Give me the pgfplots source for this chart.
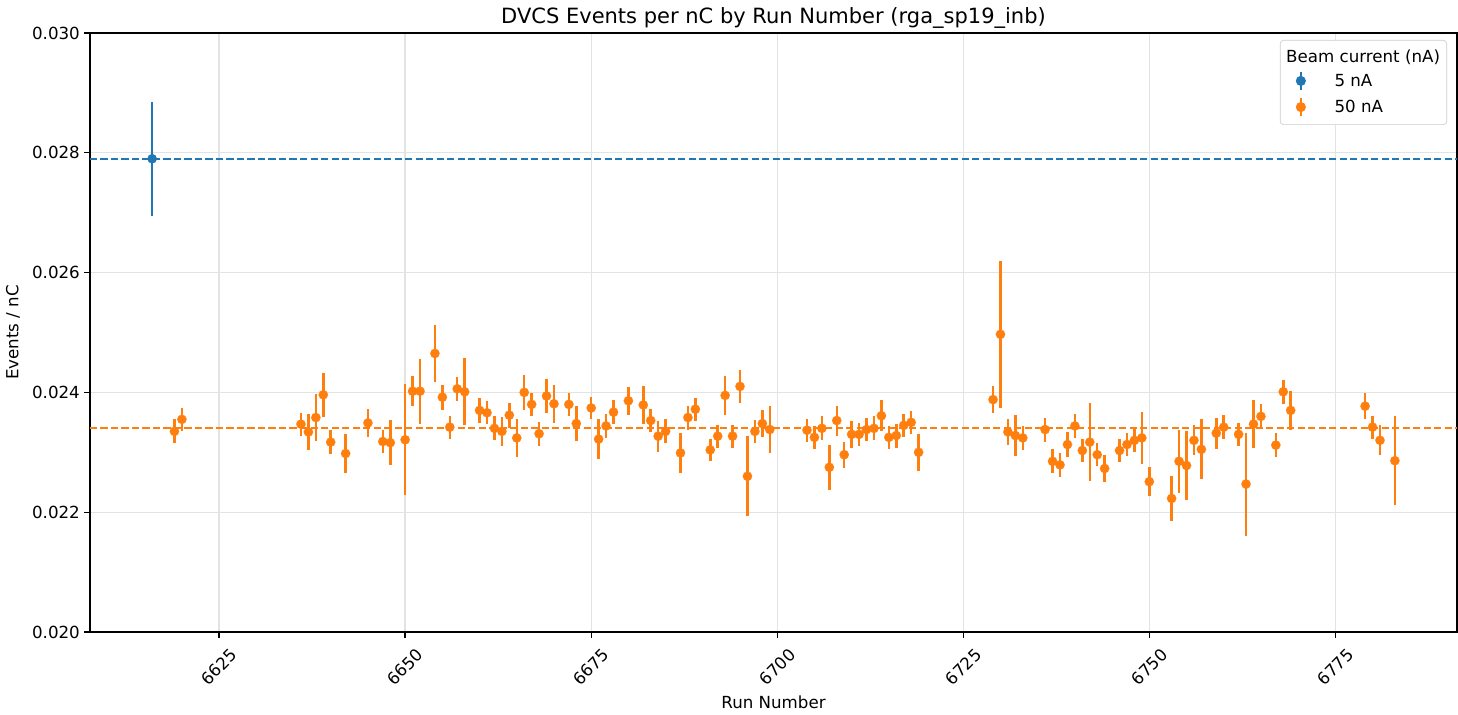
\documentclass[border=0pt]{standalone}
\usepackage{pgfplots}
\pgfplotsset{compat=1.18}
\usepackage{pgfplotstable}
\usepackage{fontspec}
\setmainfont{DejaVu Sans}
\definecolor{mplblue}{HTML}{1F77B4}
\definecolor{mplorange}{HTML}{FF7F0E}
\definecolor{gridgray}{HTML}{E3E3E3}
\definecolor{legframe}{HTML}{CCCCCC}

\pgfplotstableread{
x y e
6616 0.02790 0.00095
}\bluedata

\pgfplotstableread{
x y e
6619 0.02335 0.00020
6620 0.02355 0.00019
6636 0.02347 0.00019
6637 0.02334 0.00030
6638 0.02358 0.00039
6639 0.02396 0.00037
6640 0.02317 0.00020
6642 0.02298 0.00032
6645 0.02349 0.00024
6647 0.02318 0.00020
6648 0.02316 0.00038
6650 0.02321 0.00093
6651 0.02402 0.00025
6652 0.02402 0.00054
6654 0.02465 0.00048
6655 0.02392 0.00021
6656 0.02342 0.00019
6657 0.02406 0.00020
6658 0.02401 0.00056
6660 0.02370 0.00021
6661 0.02366 0.00019
6662 0.02340 0.00020
6663 0.02335 0.00024
6664 0.02362 0.00021
6665 0.02324 0.00032
6666 0.02400 0.00029
6667 0.02380 0.00019
6668 0.02331 0.00020
6669 0.02394 0.00028
6670 0.02381 0.00032
6672 0.02380 0.00019
6673 0.02348 0.00029
6675 0.02374 0.00019
6676 0.02322 0.00033
6677 0.02344 0.00020
6678 0.02367 0.00020
6680 0.02386 0.00023
6682 0.02379 0.00032
6683 0.02353 0.00019
6684 0.02327 0.00026
6685 0.02335 0.00020
6687 0.02299 0.00033
6688 0.02358 0.00020
6689 0.02372 0.00019
6691 0.02304 0.00019
6692 0.02327 0.00019
6693 0.02395 0.00033
6694 0.02327 0.00019
6695 0.02410 0.00027
6696 0.02260 0.00067
6697 0.02335 0.00019
6698 0.02348 0.00022
6699 0.02338 0.00040
6704 0.02337 0.00019
6705 0.02325 0.00019
6706 0.02340 0.00020
6707 0.02275 0.00038
6708 0.02353 0.00025
6709 0.02296 0.00022
6710 0.02330 0.00022
6711 0.02330 0.00019
6712 0.02338 0.00019
6713 0.02340 0.00020
6714 0.02361 0.00026
6715 0.02325 0.00019
6716 0.02328 0.00020
6717 0.02345 0.00019
6718 0.02350 0.00019
6719 0.02300 0.00031
6729 0.02388 0.00023
6730 0.02497 0.00123
6731 0.02334 0.00021
6732 0.02328 0.00034
6733 0.02324 0.00020
6736 0.02338 0.00020
6737 0.02285 0.00020
6738 0.02279 0.00020
6739 0.02313 0.00021
6740 0.02344 0.00020
6741 0.02303 0.00019
6742 0.02317 0.00065
6743 0.02296 0.00019
6744 0.02273 0.00022
6746 0.02303 0.00019
6747 0.02313 0.00019
6748 0.02320 0.00020
6749 0.02324 0.00043
6750 0.02251 0.00024
6753 0.02223 0.00037
6754 0.02285 0.00053
6755 0.02278 0.00057
6756 0.02320 0.00025
6757 0.02305 0.00050
6759 0.02332 0.00026
6760 0.02342 0.00020
6762 0.02330 0.00019
6763 0.02247 0.00086
6764 0.02347 0.00040
6765 0.02360 0.00020
6767 0.02312 0.00020
6768 0.02401 0.00020
6769 0.02370 0.00033
6779 0.02377 0.00022
6780 0.02342 0.00019
6781 0.02320 0.00025
6783 0.02286 0.00074
}\orangedata

\begin{document}
\begin{tikzpicture}
\begin{axis}[
  name=ax,
  scale only axis, width=820.2pt, height=359.4pt,
  xmin=6607.65, xmax=6791.35, ymin=0.020, ymax=0.030,
  xtick={6625,6650,6675,6700,6725,6750,6775},
  ytick={0.020,0.022,0.024,0.026,0.028,0.030},
  xtick pos=bottom, ytick pos=left,
  scaled y ticks=false, scaled x ticks=false,
  /pgf/number format/assume math mode=true,
  yticklabel style={/pgf/number format/fixed, /pgf/number format/fixed zerofill, /pgf/number format/precision=3, anchor=east, inner sep=0pt},
  xticklabel style={/pgf/number format/1000 sep={}, rotate=45, anchor=center, inner sep=0pt},
  xticklabel shift=17.5pt,
  yticklabel shift=2.4pt,
  tick label style={font=\fontsize{10}{12}\selectfont},
  tick align=outside, major tick length=3.5pt,
  tick style={black, line width=0.8pt},
  axis line style={line width=0.8pt},
  grid=major, grid style={gridgray, line width=0.8pt},
  title={DVCS Events per nC by Run Number (rga\_sp19\_inb)},
  every axis title/.style={at={(axis description cs:0.5,1)}, anchor=base, yshift=5.4pt, font=\fontsize{12.6}{15}\selectfont},
  xlabel={Run Number},
  xlabel style={at={([yshift=-45.6pt]axis description cs:0.5,0)}, anchor=base, font=\fontsize{10}{12}\selectfont},
  ylabel={Events / nC},
  ylabel style={at={([xshift=-43pt]axis description cs:0,0.5)}, anchor=base, font=\fontsize{10}{12}\selectfont},
  legend cell align=left,
  legend style={at={(axis description cs:1,1)}, anchor=north east, xshift=-6pt, yshift=-4.2pt,
    draw=legframe, rounded corners=2pt, fill=white, inner xsep=4pt, inner ysep=4.6pt,
    row sep=3.8pt, column sep=6.2pt,
    nodes={inner sep=0pt, text height=8.5pt, text depth=1.5pt},
    font=\fontsize{10}{12}\selectfont},
]
\addlegendimage{empty legend}
\addlegendentry{\hspace{-29pt}Beam current (nA)}

\addplot[mplblue, line width=1.2pt, dash pattern=on 4.4pt off 1.9pt, forget plot]
  coordinates {(6607.65,0.0279) (6791.35,0.0279)};
\addplot[mplorange, line width=1.2pt, dash pattern=on 4.4pt off 1.9pt, forget plot]
  coordinates {(6607.65,0.0234) (6791.35,0.0234)};

\addplot[only marks, mark=*, mark size=2.8pt, color=mplblue,
  mark options={fill=mplblue, draw=mplblue, line width=0.1pt},
  legend image code/.code={
    \path (0pt,0pt) (22pt,0pt);
    \draw[mplblue, line width=1.5pt] (8.2pt,-5.2pt) -- (8.2pt,5.2pt);
    \fill[mplblue] (8.2pt,0pt) circle (2.8pt);
  },
  error bars/.cd, y dir=both, y explicit,
  error bar style={line width=1.5pt, mplblue}, error mark=none]
  table[x=x, y=y, y error=e] {\bluedata};
\addlegendentry{5 nA}

\addplot[only marks, mark=*, mark size=2.8pt, color=mplorange,
  mark options={fill=mplorange, draw=mplorange, line width=0.1pt},
  legend image code/.code={
    \path (0pt,0pt) (22pt,0pt);
    \draw[mplorange, line width=1.5pt] (8.2pt,-5.2pt) -- (8.2pt,5.2pt);
    \fill[mplorange] (8.2pt,0pt) circle (2.8pt);
  },
  error bars/.cd, y dir=both, y explicit,
  error bar style={line width=1.5pt, mplorange}, error mark=none]
  table[x=x, y=y, y error=e] {\orangedata};
\addlegendentry{50 nA}
\end{axis}
\pgfresetboundingbox
\path ([shift={(-54pt,-49.2pt)}]ax.south west) rectangle ([shift={(0.6pt,19.8pt)}]ax.north east);
\end{tikzpicture}
\end{document}
